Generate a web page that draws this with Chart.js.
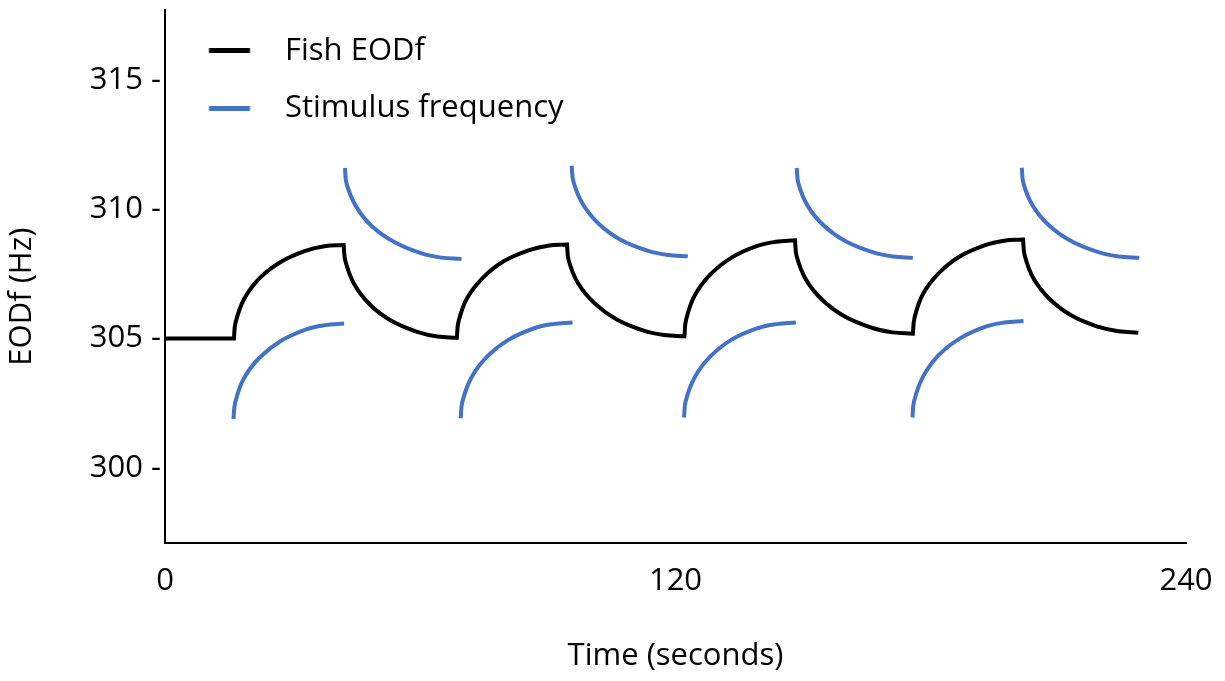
<!DOCTYPE html>
<html>
<head>
  <title>Fish EODf and stimulus frequency</title>
  <script src="https://cdn.jsdelivr.net/npm/chart.js"></script>
  <style>
    body { margin: 0; background: #fff; }
  </style>
</head>
<body>
  <canvas id="eodf-chart" width="1225" height="681"></canvas>
  <script>
    // values: time in seconds, frequency in Hz
    // each corner (start of a rise, every peak and trough) is listed twice so the curve keeps a sharp corner there
    var fishTime = [0, 16.2, 16.2,
      16.6, 18.6, 22.2, 27.2, 33.2, 37.5, 42.0, 42.0,
      42.4, 44.5, 48.2, 53.3, 59.5, 64.0, 68.6, 68.6,
      69.0, 71.0, 74.7, 79.6, 85.6, 90.0, 94.5, 94.5,
      94.9, 97.1, 101.0, 106.3, 112.7, 117.3, 122.1, 122.1,
      122.5, 124.5, 128.2, 133.2, 139.2, 143.6, 148.1, 148.1,
      148.5, 150.7, 154.6, 159.9, 166.3, 171.0, 175.8, 175.8,
      176.2, 178.2, 181.9, 186.8, 192.8, 197.2, 201.7, 201.7,
      202.1, 204.2, 208.0, 213.2, 219.5, 224.1, 228.8];
    var fishHz = [305.0, 305.0, 305.0,
      305.63, 306.53, 307.33, 307.96, 308.40, 308.57, 308.62, 308.62,
      308.00, 307.10, 306.31, 305.68, 305.25, 305.08, 305.03, 305.03,
      305.66, 306.56, 307.35, 307.99, 308.42, 308.59, 308.64, 308.64,
      308.02, 307.14, 306.36, 305.73, 305.30, 305.14, 305.09, 305.09,
      305.74, 306.66, 307.48, 308.13, 308.58, 308.74, 308.80, 308.80,
      308.17, 307.27, 306.48, 305.84, 305.41, 305.24, 305.19, 305.19,
      305.82, 306.73, 307.53, 308.17, 308.61, 308.78, 308.83, 308.83,
      308.20, 307.31, 306.52, 305.88, 305.45, 305.28, 305.23];

    // stimulus: lower (rising) arcs, null breaks the line between arcs
    var stimLowTime = [16.1, 16.5, 18.5, 22.2, 27.2, 33.2, 37.6, 42.1, null,
      69.5, 69.9, 72.0, 75.7, 80.7, 86.8, 91.2, 95.8, null,
      122.0, 122.4, 124.5, 128.2, 133.2, 139.3, 143.7, 148.3, null,
      175.7, 176.1, 178.2, 181.8, 186.8, 192.9, 197.3, 201.8];
    var stimLowHz = [301.89, 302.53, 303.45, 304.26, 304.91, 305.36, 305.52, 305.58, null,
      301.92, 302.56, 303.49, 304.30, 304.95, 305.40, 305.56, 305.62, null,
      301.95, 302.59, 303.50, 304.31, 304.96, 305.40, 305.56, 305.62, null,
      301.95, 302.60, 303.53, 304.35, 305.00, 305.46, 305.62, 305.68];

    // stimulus: upper (falling) arcs
    var stimHighTime = [42.3, 42.7, 44.9, 48.7, 54.0, 60.3, 64.9, 69.7, null,
      95.6, 96.0, 98.2, 102.0, 107.2, 113.6, 118.2, 122.9, null,
      148.5, 148.9, 151.1, 154.9, 160.1, 166.5, 171.1, 175.8, null,
      201.4, 201.8, 204.0, 207.9, 213.2, 219.6, 224.2, 229.0];
    var stimHighHz = [311.59, 310.98, 310.11, 309.33, 308.72, 308.29, 308.13, 308.08, null,
      311.68, 311.07, 310.20, 309.43, 308.81, 308.39, 308.23, 308.18, null,
      311.59, 310.99, 310.12, 309.36, 308.75, 308.33, 308.17, 308.12, null,
      311.60, 310.99, 310.13, 309.36, 308.75, 308.33, 308.17, 308.12];

    var xTicks = [0, 120, 240];
    var yTicks = [300, 305, 310, 315];

    var BLACK = '#000000';
    var BLUE = '#4472C4';
    var FONT = { family: "'Open Sans', sans-serif", size: 31 };

    function toPoints(xs, ys) {
      return xs.map(function(x, i) { return { x: x, y: ys[i] }; });
    }

    // legend sample: a short thick bar with some space left of it
    function legendSwatch(color) {
      var c = document.createElement('canvas');
      c.width = 78;
      c.height = 5;
      var g = c.getContext('2d');
      g.fillStyle = color;
      g.fillRect(17.5, 0, 41, 5);
      return c;
    }

    var lineStyle = {
      borderWidth: 4,
      pointRadius: 0,
      pointHoverRadius: 0,
      fill: false,
      tension: 0.4,
      borderJoinStyle: 'miter'
    };

    var ctx = document.getElementById('eodf-chart').getContext('2d');
    var chart = new Chart(ctx, {
      type: 'line',
      data: {
        datasets: [
          Object.assign({
            label: 'Fish EODf',
            data: toPoints(fishTime, fishHz),
            borderColor: BLACK,
            backgroundColor: BLACK,
            pointStyle: legendSwatch(BLACK)
          }, lineStyle),
          Object.assign({
            label: 'Stimulus frequency',
            data: toPoints(stimLowTime, stimLowHz),
            borderColor: BLUE,
            backgroundColor: BLUE,
            pointStyle: legendSwatch(BLUE)
          }, lineStyle),
          Object.assign({
            label: 'Stimulus frequency (upper)',
            data: toPoints(stimHighTime, stimHighHz),
            borderColor: BLUE,
            backgroundColor: BLUE
          }, lineStyle)
        ]
      },
      options: {
        responsive: false,
        animation: false,
        spanGaps: false,
        layout: { padding: { left: 0, top: 10, right: 39, bottom: 0 } },
        plugins: {
          tooltip: { enabled: false },
          legend: {
            position: 'chartArea',
            align: 'start',
            // empty title only pushes the items down a little
            title: { display: true, text: '', padding: 0, font: { size: 8, lineHeight: 1.1 } },
            labels: {
              usePointStyle: true,
              pointStyleWidth: 78,
              padding: 26.5,
              color: BLACK,
              font: FONT,
              filter: function(item) { return item.datasetIndex < 2; }
            }
          }
        },
        scales: {
          x: {
            type: 'linear',
            min: 0,
            max: 240,
            afterBuildTicks: function(scale) {
              scale.ticks = xTicks.map(function(v) { return { value: v }; });
            },
            afterFit: function(scale) {
              scale.height = 138;
              scale.paddingLeft = 0;
              scale.paddingRight = 0;
            },
            grid: { display: false, drawTicks: false },
            border: { display: true, color: BLACK, width: 2 },
            ticks: { color: BLACK, font: FONT, padding: 20, maxRotation: 0 },
            title: {
              display: true,
              text: 'Time (seconds)',
              color: BLACK,
              font: FONT,
              padding: { top: 0, bottom: 6 }
            }
          },
          y: {
            type: 'linear',
            min: 297.1,
            max: 317.7,
            afterBuildTicks: function(scale) {
              scale.ticks = yTicks.map(function(v) { return { value: v }; });
            },
            afterFit: function(scale) {
              scale.width = 165;
              scale.paddingTop = 0;
              scale.paddingBottom = 0;
            },
            grid: { display: false, drawTicks: false },
            border: { display: true, color: BLACK, width: 2 },
            ticks: {
              color: BLACK,
              font: FONT,
              padding: 4,
              callback: function(v) { return v + ' -'; }
            },
            title: {
              display: true,
              // trailing spaces nudge the rotated title a bit lower, as in the figure
              text: 'EODf (Hz)     ',
              color: BLACK,
              font: FONT,
              padding: { top: 4, bottom: 0 }
            }
          }
        }
      }
    });
  </script>
</body>
</html>
